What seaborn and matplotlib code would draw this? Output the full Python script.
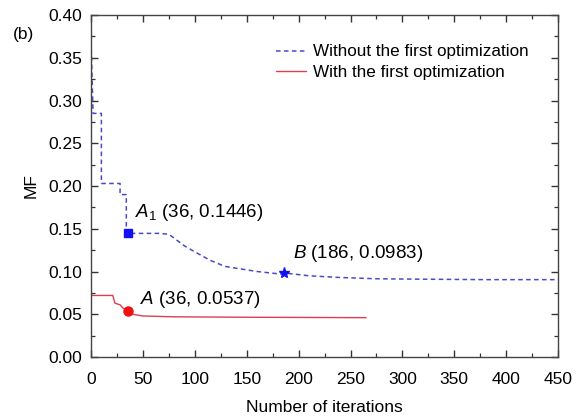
import matplotlib
matplotlib.use("Agg")
import matplotlib.pyplot as plt
import seaborn as sns
import pandas as pd
from matplotlib.ticker import MultipleLocator

sns.set_style("ticks")
plt.rcParams['font.family'] = ['Liberation Sans', 'DejaVu Sans']
plt.rcParams['mathtext.fontset'] = 'custom'
plt.rcParams['mathtext.it'] = 'Liberation Sans:italic'
plt.rcParams['mathtext.rm'] = 'Liberation Sans'
plt.rcParams['text.color'] = 'black'
plt.rcParams['axes.labelcolor'] = 'black'
plt.rcParams['xtick.color'] = 'black'
plt.rcParams['ytick.color'] = 'black'

# Data
blue_iter = [0, 2, 10, 10, 28, 28, 34, 34, 66, 75, 90, 100, 115, 129, 139, 160, 183, 186, 210, 240, 275, 320, 380, 450]
blue_mf = [0.37, 0.285, 0.285, 0.203, 0.203, 0.19, 0.19, 0.1446, 0.1446, 0.1436, 0.13, 0.123, 0.113, 0.106, 0.104, 0.1, 0.097, 0.0983, 0.095, 0.093, 0.0915, 0.091, 0.0905, 0.0905]
red_iter = [0, 21, 23, 28, 31, 36, 40, 50, 80, 150, 265]
red_mf = [0.072, 0.072, 0.063, 0.061, 0.057, 0.0537, 0.05, 0.048, 0.047, 0.0465, 0.046]

labels = ["Without the first optimization", "With the first optimization"]
points = {"A1": (36, 0.1446), "B": (186, 0.0983), "A": (36, 0.0537)}

df_blue = pd.DataFrame({"x": blue_iter, "y": blue_mf})
df_red = pd.DataFrame({"x": red_iter, "y": red_mf})

fig = plt.figure(figsize=(5.76, 4.19), dpi=100)
ax = fig.add_axes([0.158, 0.148, 0.811, 0.816])

blue = "#4a4ac8"
red = "#e03c4c"
sns.lineplot(data=df_blue, x="x", y="y", ax=ax, color=blue, lw=1.1, linestyle=(0, (3, 2.2)),
             label=labels[0], sort=False, estimator=None)
sns.lineplot(data=df_red, x="x", y="y", ax=ax, color=red, lw=1.0, label=labels[1],
             sort=False, estimator=None)

ax.plot(*points["A1"], marker="s", color="#1010f0", ms=6, ls="none")
ax.plot(*points["B"], marker="*", color="#1010f0", ms=8, ls="none")
ax.plot(*points["A"], marker="o", color="#f01010", ms=6.5, ls="none")

afs = 13.5
ax.text(42.4, 0.1696, r"$\mathit{A}_1$ (36, 0.1446)", fontsize=afs, va="center")
ax.text(195, 0.1205, r"$\mathit{B}$ (186, 0.0983)", fontsize=afs, va="center")
ax.text(47, 0.0667, r"$\mathit{A}$ (36, 0.0537)", fontsize=afs, va="center")

ax.set_xlim(0, 450)
ax.set_ylim(0, 0.40)
ax.xaxis.set_major_locator(MultipleLocator(50))
ax.xaxis.set_minor_locator(MultipleLocator(25))
ax.yaxis.set_major_locator(MultipleLocator(0.05))
ax.yaxis.set_minor_locator(MultipleLocator(0.025))
ax.set_yticks(ax.get_yticks())
ax.set_yticklabels([f"{v:.2f}" for v in ax.get_yticks()])
ax.set_ylim(0, 0.40)
ax.tick_params(which="both", direction="in", top=True, right=True, labelsize=12.5, color="#333333")
ax.tick_params(which="major", length=5, width=1.0)
ax.tick_params(which="minor", length=3, width=0.9)
ax.tick_params(axis="x", pad=10.5)
ax.tick_params(axis="y", pad=6.5)
for s in ax.spines.values():
    s.set_color("#444444")
    s.set_linewidth(1.0)

ax.set_xlabel("Number of iterations", fontsize=12.5, labelpad=10)
ax.set_ylabel("MF", fontsize=12.5, labelpad=7)

leg = ax.legend(loc="upper left", bbox_to_anchor=(0.395, 0.914), frameon=False, fontsize=12.3,
                handlelength=1.8, handletextpad=0.4, labelspacing=0.3, borderpad=0, borderaxespad=0)

fig.text(0.0226, 0.9165, "(b)", fontsize=12.5, va="center")

fig.savefig("out.png", dpi=100)
